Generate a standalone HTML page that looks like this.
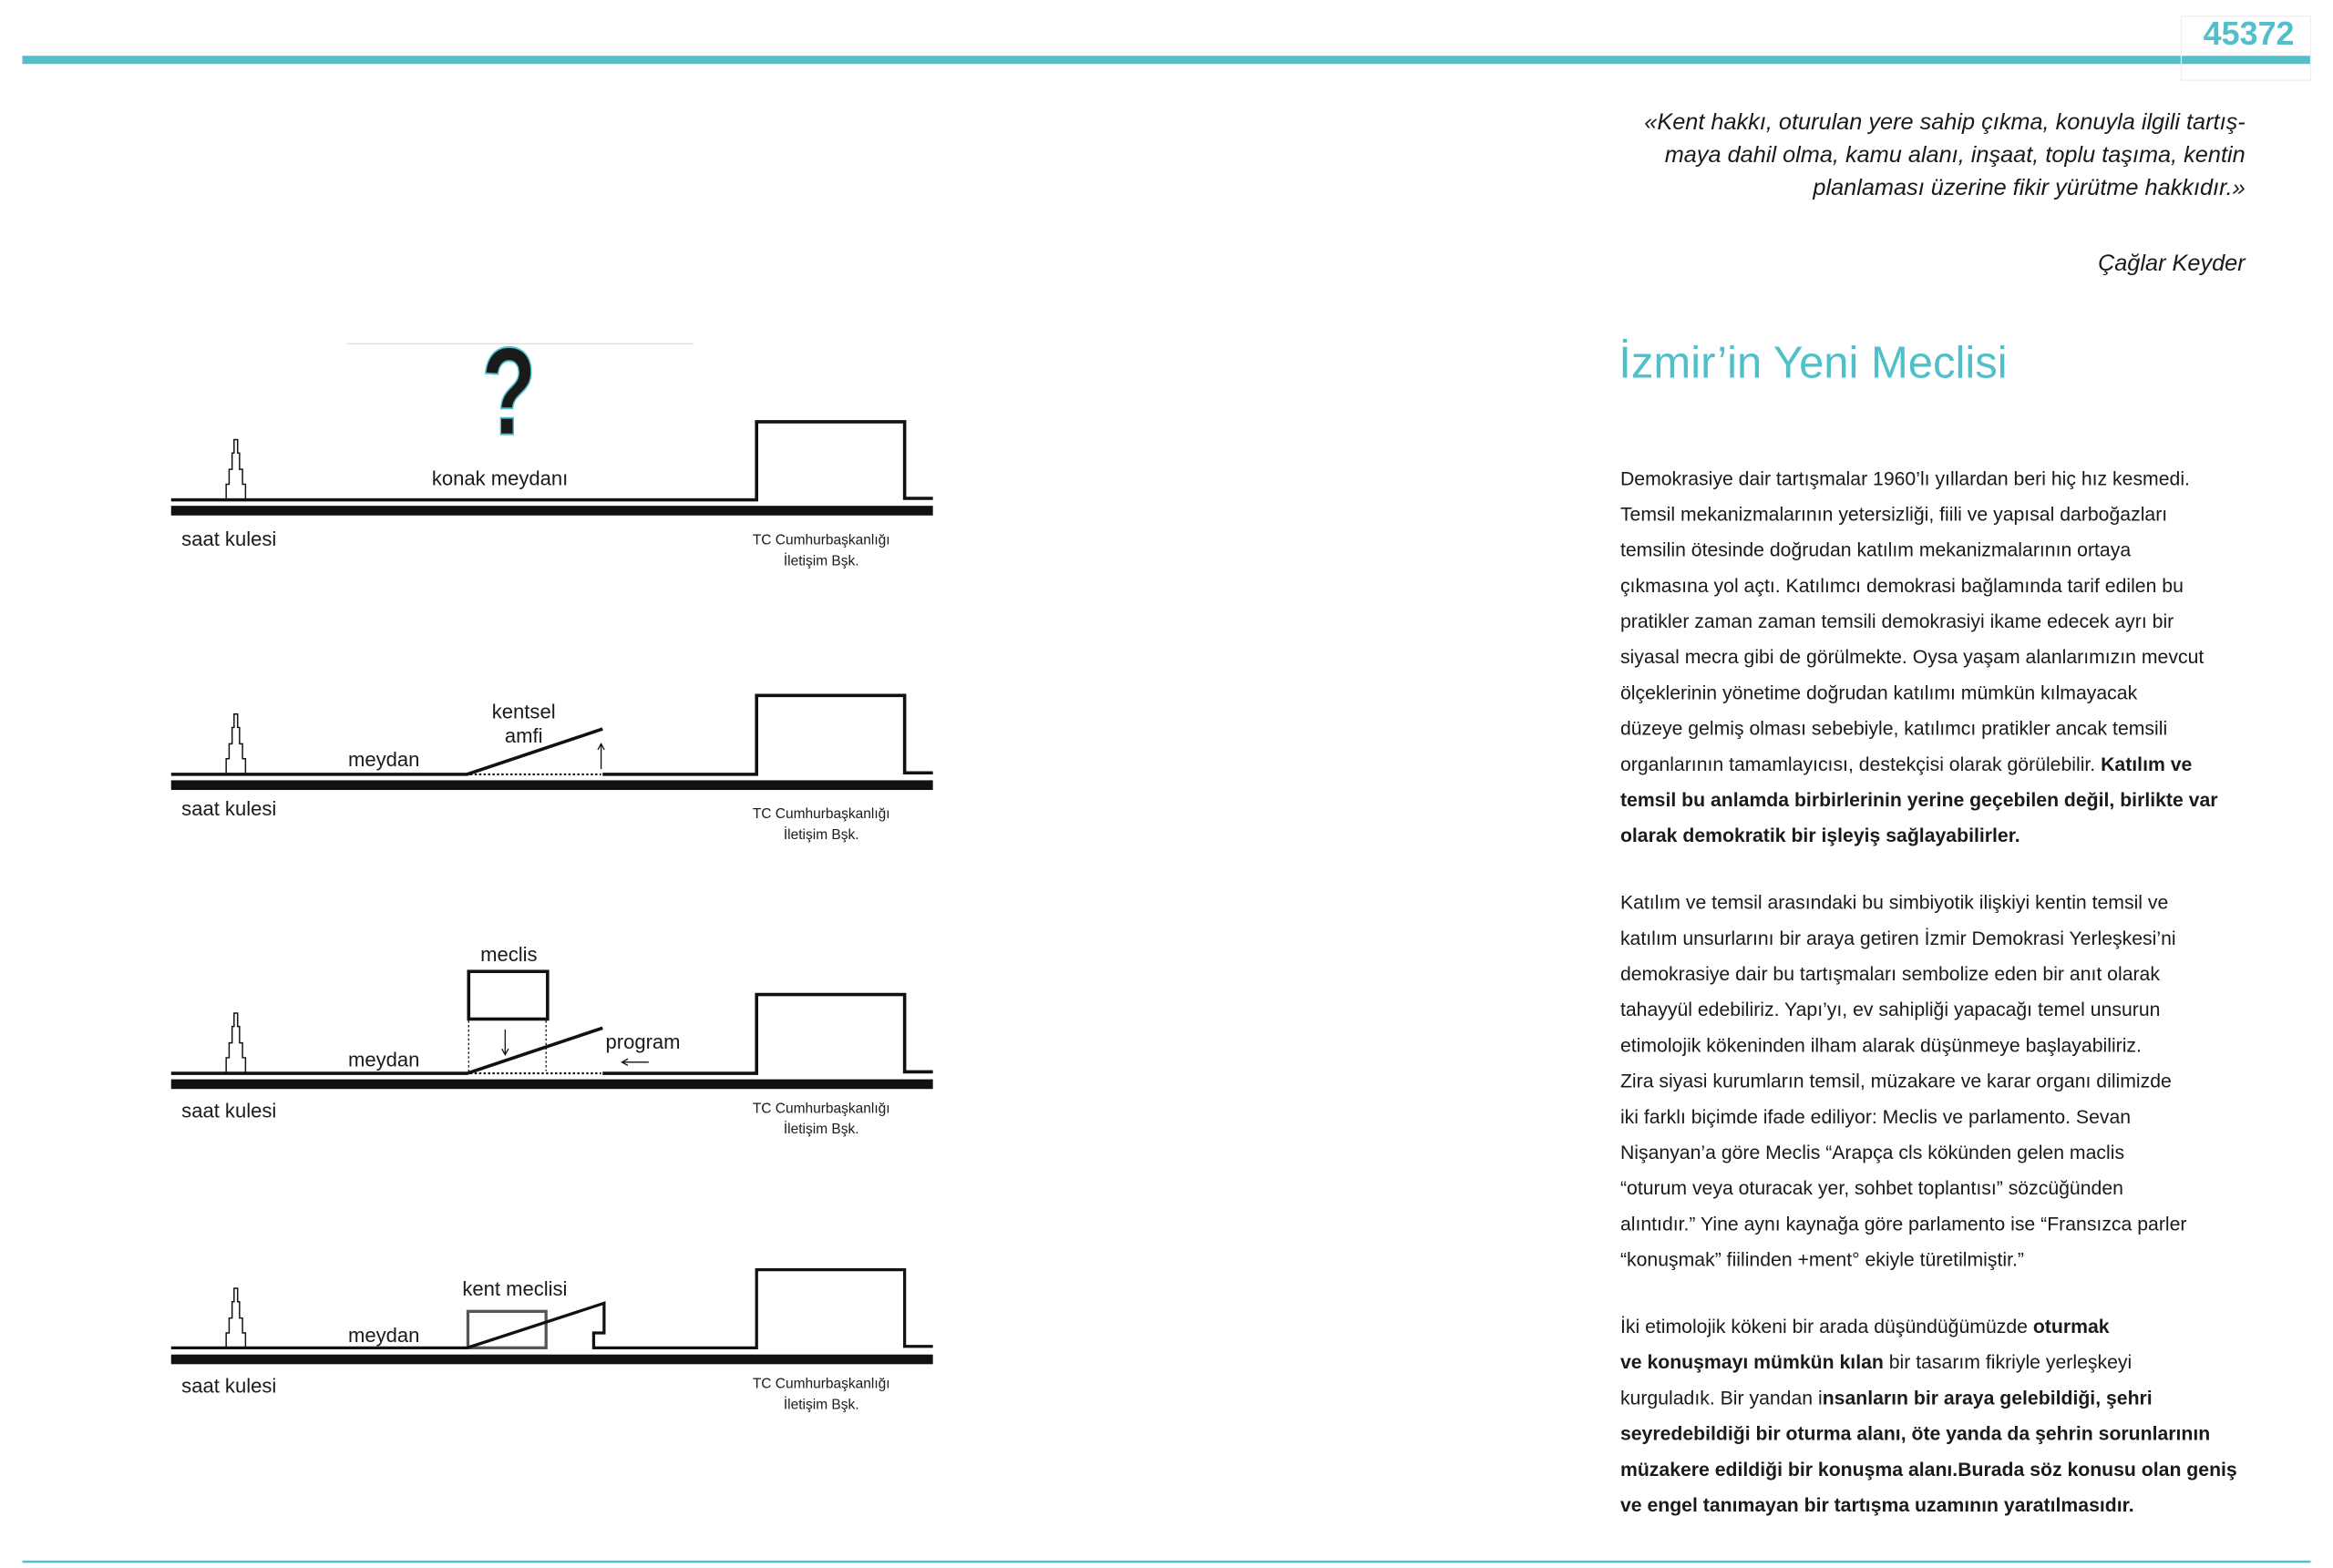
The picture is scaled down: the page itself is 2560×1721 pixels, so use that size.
<!DOCTYPE html>
<html><head><meta charset="utf-8"><style>
html,body{margin:0;padding:0;background:#fff;}
svg{display:block;}
text{font-family:"Liberation Sans",sans-serif;fill:#1a1a1a;}
.b{font-size:13px;}
.q{font-size:15.5px;font-style:italic;}
.lbl{font-size:13.5px;}
.sm{font-size:9.5px;}
</style></head><body>
<svg width="2560" height="1721" viewBox="0 0 1568 1054" preserveAspectRatio="none" xmlns="http://www.w3.org/2000/svg">
<defs>
<g id="tower" fill="none" stroke="#111" stroke-width="0.9">
<path d="M152,0 V-10 H154 V-20 H156 V-31 H157.3 V-40 H159.7 V-31 H161 V-20 H163 V-10 H165 V0"/>
</g>
</defs>
<!-- header -->
<rect x="15" y="37.5" width="1538" height="5.5" fill="#52bfca"/>
<rect x="1466" y="11" width="87" height="43" fill="none" stroke="#eee" stroke-width="0.8"/>
<text x="1542" y="30" text-anchor="end" style="font-size:22px;font-weight:bold;fill:#52bfca">45372</text>
<rect x="15" y="1049" width="1538" height="1.5" fill="#52bfca"/>

<!-- quote -->
<text class="q" x="1509" y="87" text-anchor="end">«Kent hakkı, oturulan yere sahip çıkma, konuyla ilgili  tartış-</text>
<text class="q" x="1509" y="109" text-anchor="end">maya dahil olma, kamu alanı, inşaat, toplu taşıma,  kentin</text>
<text class="q" x="1509" y="131" text-anchor="end">planlaması üzerine fikir yürütme hakkıdır.»</text>
<text class="q" x="1509" y="182" text-anchor="end">Çağlar Keyder</text>

<text x="1088" y="254" style="font-size:30px;fill:#4fbfca">İzmir’in Yeni Meclisi</text>

<!-- body -->
<g class="b">
<text class="b" x="1089" y="326">Demokrasiye dair tartışmalar 1960’lı yıllardan beri hiç hız kesmedi.</text>
<text class="b" x="1089" y="350">Temsil mekanizmalarının yetersizliği, fiili ve yapısal darboğazları</text>
<text class="b" x="1089" y="374">temsilin ötesinde doğrudan katılım mekanizmalarının ortaya</text>
<text class="b" x="1089" y="398">çıkmasına yol açtı. Katılımcı demokrasi bağlamında tarif edilen bu</text>
<text class="b" x="1089" y="422">pratikler zaman zaman temsili demokrasiyi ikame edecek ayrı bir</text>
<text class="b" x="1089" y="446">siyasal mecra gibi de görülmekte. Oysa yaşam alanlarımızın mevcut</text>
<text class="b" x="1089" y="470">ölçeklerinin yönetime doğrudan katılımı mümkün kılmayacak</text>
<text class="b" x="1089" y="494">düzeye gelmiş olması sebebiyle, katılımcı pratikler ancak temsili</text>
<text class="b" x="1089" y="518">organlarının tamamlayıcısı, destekçisi olarak görülebilir. <tspan font-weight="bold">Katılım ve</tspan></text>
<text class="b" x="1089" y="542" font-weight="bold">temsil bu anlamda birbirlerinin yerine geçebilen değil, birlikte var</text>
<text class="b" x="1089" y="566" font-weight="bold">olarak demokratik bir işleyiş sağlayabilirler.</text>

<text class="b" x="1089" y="611">Katılım ve temsil arasındaki bu simbiyotik ilişkiyi kentin temsil ve</text>
<text class="b" x="1089" y="635">katılım unsurlarını bir araya getiren İzmir Demokrasi Yerleşkesi’ni</text>
<text class="b" x="1089" y="659">demokrasiye dair bu tartışmaları sembolize eden bir anıt olarak</text>
<text class="b" x="1089" y="683">tahayyül edebiliriz. Yapı’yı, ev sahipliği yapacağı temel unsurun</text>
<text class="b" x="1089" y="707">etimolojik kökeninden ilham alarak düşünmeye başlayabiliriz.</text>
<text class="b" x="1089" y="731">Zira siyasi kurumların temsil, müzakare ve karar organı dilimizde</text>
<text class="b" x="1089" y="755">iki farklı biçimde ifade ediliyor: Meclis ve parlamento. Sevan</text>
<text class="b" x="1089" y="779">Nişanyan’a göre Meclis “Arapça cls kökünden gelen maclis</text>
<text class="b" x="1089" y="803">“oturum veya oturacak yer, sohbet toplantısı” sözcüğünden</text>
<text class="b" x="1089" y="827">alıntıdır.” Yine aynı kaynağa göre parlamento ise “Fransızca parler</text>
<text class="b" x="1089" y="851">“konuşmak” fiilinden +ment° ekiyle türetilmiştir.”</text>

<text class="b" x="1089" y="896">İki etimolojik kökeni bir arada düşündüğümüzde <tspan font-weight="bold">oturmak</tspan></text>
<text class="b" x="1089" y="920"><tspan font-weight="bold">ve konuşmayı mümkün kılan</tspan> bir tasarım fikriyle yerleşkeyi</text>
<text class="b" x="1089" y="944">kurguladık. Bir yandan i<tspan font-weight="bold">nsanların bir araya gelebildiği, şehri</tspan></text>
<text class="b" x="1089" y="968" font-weight="bold">seyredebildiği bir oturma alanı, öte yanda da şehrin sorunlarının</text>
<text class="b" x="1089" y="992" font-weight="bold">müzakere edildiği bir konuşma alanı.Burada söz konusu olan geniş</text>
<text class="b" x="1089" y="1016" font-weight="bold">ve engel tanımayan bir tartışma uzamının yaratılmasıdır.</text>
</g>

<!-- PANEL 1 -->
<line x1="233" y1="231" x2="466" y2="231" stroke="#ccc" stroke-width="0.6"/>
<text x="0" y="0" text-anchor="middle" transform="translate(342,292) scale(0.72,1)" style="font-size:84px;font-weight:bold;fill:#1a1a1a;stroke:#4fbfca;stroke-width:1.2">?</text>
<path d="M115,336 H508.5 V283.5 H608 V335 H627" fill="none" stroke="#111" stroke-width="2.2"/>
<rect x="115" y="340" width="512" height="6.5" fill="#111"/>
<use href="#tower" transform="translate(0,335.5)"/>
<text class="lbl" x="336" y="326" text-anchor="middle">konak meydanı</text>
<text class="lbl" x="122" y="367">saat kulesi</text>
<text class="sm" x="552" y="366" text-anchor="middle">TC Cumhurbaşkanlığı</text>
<text class="sm" x="552" y="380" text-anchor="middle">İletişim Bşk.</text>

<!-- PANEL 2 -->
<path d="M115,520.5 H314 L405,490" fill="none" stroke="#111" stroke-width="2.2"/>
<line x1="316" y1="520.5" x2="404" y2="520.5" stroke="#111" stroke-width="1.3" stroke-dasharray="1.5,1.5"/>
<path d="M405,520.5 H508.5 V467.5 H608 V519.5 H627" fill="none" stroke="#111" stroke-width="2.2"/>
<rect x="115" y="524.5" width="512" height="6.5" fill="#111"/>
<use href="#tower" transform="translate(0,520)"/>
<line x1="404" y1="517" x2="404" y2="501" stroke="#111" stroke-width="0.8"/>
<path d="M401.8,504 L404,500 L406.2,504" fill="none" stroke="#111" stroke-width="0.8"/>
<text class="lbl" x="352" y="483" text-anchor="middle">kentsel</text>
<text class="lbl" x="352" y="499" text-anchor="middle">amfi</text>
<text class="lbl" x="258" y="515" text-anchor="middle">meydan</text>
<text class="lbl" x="122" y="548">saat kulesi</text>
<text class="sm" x="552" y="550" text-anchor="middle">TC Cumhurbaşkanlığı</text>
<text class="sm" x="552" y="564" text-anchor="middle">İletişim Bşk.</text>

<!-- PANEL 3 -->
<path d="M115,721.5 H314 L405,691" fill="none" stroke="#111" stroke-width="2.2"/>
<line x1="316" y1="721.5" x2="404" y2="721.5" stroke="#111" stroke-width="1.3" stroke-dasharray="1.5,1.5"/>
<path d="M405,721.5 H508.5 V668.5 H608 V720.5 H627" fill="none" stroke="#111" stroke-width="2.2"/>
<rect x="115" y="725.5" width="512" height="6.5" fill="#111"/>
<use href="#tower" transform="translate(0,721)"/>
<rect x="315" y="653" width="53" height="32" fill="none" stroke="#111" stroke-width="2.2"/>
<line x1="315" y1="686" x2="315" y2="720" stroke="#111" stroke-width="0.8" stroke-dasharray="1.5,1.5"/>
<line x1="367" y1="686" x2="367" y2="720" stroke="#111" stroke-width="0.8" stroke-dasharray="1.5,1.5"/>
<line x1="339.5" y1="692" x2="339.5" y2="708" stroke="#111" stroke-width="0.8"/>
<path d="M337.3,705 L339.5,709 L341.7,705" fill="none" stroke="#111" stroke-width="0.8"/>
<line x1="419" y1="714" x2="436" y2="714" stroke="#111" stroke-width="0.8"/>
<path d="M422,711.8 L418,714 L422,716.2" fill="none" stroke="#111" stroke-width="0.8"/>
<text class="lbl" x="342" y="646" text-anchor="middle">meclis</text>
<text class="lbl" x="407" y="705">program</text>
<text class="lbl" x="258" y="717" text-anchor="middle">meydan</text>
<text class="lbl" x="122" y="751">saat kulesi</text>
<text class="sm" x="552" y="748" text-anchor="middle">TC Cumhurbaşkanlığı</text>
<text class="sm" x="552" y="762" text-anchor="middle">İletişim Bşk.</text>

<!-- PANEL 4 -->
<rect x="314.5" y="881.5" width="52.5" height="24.5" fill="none" stroke="#555" stroke-width="2"/>
<path d="M115,906 H314 L406,876 V896 H399 V906 H508.5 V853.5 H608 V905 H627" fill="none" stroke="#111" stroke-width="2"/>
<rect x="115" y="910.5" width="512" height="6.5" fill="#111"/>
<use href="#tower" transform="translate(0,906)"/>
<text class="lbl" x="346" y="871" text-anchor="middle">kent meclisi</text>
<text class="lbl" x="258" y="902" text-anchor="middle">meydan</text>
<text class="lbl" x="122" y="936">saat kulesi</text>
<text class="sm" x="552" y="933" text-anchor="middle">TC Cumhurbaşkanlığı</text>
<text class="sm" x="552" y="947" text-anchor="middle">İletişim Bşk.</text>
</svg>
</body></html>
